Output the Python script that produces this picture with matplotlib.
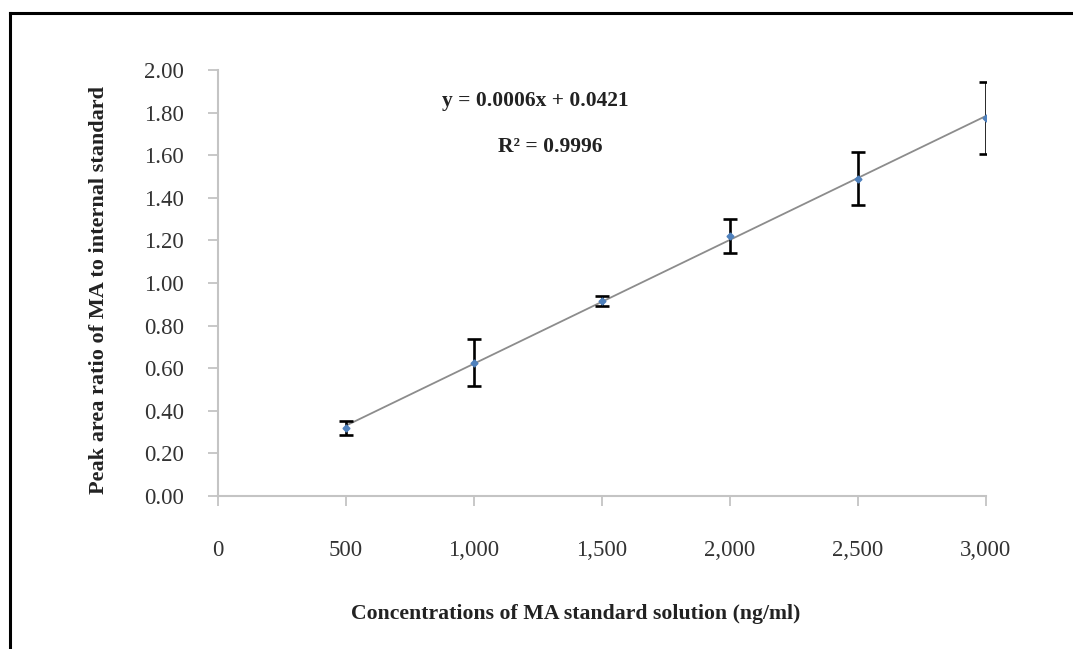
import matplotlib.pyplot as plt
import matplotlib as mpl
import numpy as np
from matplotlib.lines import Line2D

conc = [500, 1000, 1500, 2000, 2500, 3000]
ratio = [0.32, 0.625, 0.915, 1.22, 1.49, 1.775]
err = [0.032, 0.11, 0.022, 0.08, 0.125, 0.17]
yticks = [0.0, 0.2, 0.4, 0.6, 0.8, 1.0, 1.2, 1.4, 1.6, 1.8, 2.0]
xticks = [0, 500, 1000, 1500, 2000, 2500, 3000]
xticklabels = ["0", "500", "1,000", "1,500", "2,000", "2,500", "3,000"]

mpl.rcParams['font.family'] = ['Liberation Serif', 'DejaVu Serif']
mpl.rcParams['font.size'] = 16

fig = plt.figure(figsize=(10.73, 6.49), dpi=100)
ax = fig.add_axes([0.2032, 0.2357, 0.7157, 0.6564])

# trendline from least squares
slope, inter = np.polyfit(conc, ratio, 1)
xs = np.array([conc[0], conc[-1]])
ax.plot(xs, slope * xs + inter, color="#8c8c8c", lw=1.3, zorder=2)

ax.errorbar(conc, ratio, yerr=err, fmt="D", ms=3.5, color="#4f81bd",
            ecolor="black", elinewidth=1.9, capsize=5, capthick=1.9, zorder=3)

ax.set_xlim(0, 3000)
ax.set_ylim(0, 2.0)
ax.set_yticks(yticks)
ax.set_yticklabels(["%.2f" % v for v in yticks])
ax.set_xticks(xticks)
ax.set_xticklabels(xticklabels)

for s in ["top", "right"]:
    ax.spines[s].set_visible(False)
for s in ["left", "bottom"]:
    ax.spines[s].set_color("#c4c4c4")
    ax.spines[s].set_linewidth(1.5)
ax.tick_params(axis="both", direction="out", length=7.5, width=1.3,
               color="#c4c4c4", labelcolor="#333333", labelsize=16.5)
ax.tick_params(axis="x", pad=24)
ax.tick_params(axis="y", pad=17)

ax.set_xlabel("Concentrations of MA standard solution (ng/ml)",
              fontweight="bold", fontsize=15.7, labelpad=31, color="#222222")
ax.set_ylabel("Peak area ratio of MA to internal standard",
              fontweight="bold", fontsize=16, labelpad=25, color="#222222")
ax.xaxis.label.set_x(0.466)
ax.yaxis.label.set_y(0.484)

ax.text(1238, 1.855, "y = 0.0006x + 0.0421", fontweight="bold", fontsize=15.5,
        ha="center", va="center", color="#222222")
ax.text(1297, 1.64, "R² = 0.9996", fontweight="bold", fontsize=15.5,
        ha="center", va="center", color="#222222")

# outer frame
fig.add_artist(Line2D([0.0093, 1.0], [0.98, 0.98], color="black", lw=2.2))
fig.add_artist(Line2D([0.0093, 0.0093], [0.0, 0.98], color="black", lw=2.2))

plt.savefig("out.png", dpi=100)
